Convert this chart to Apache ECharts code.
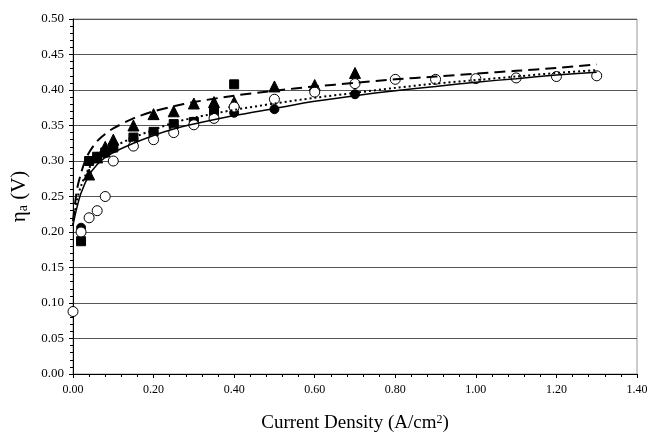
<!DOCTYPE html>
<html><head><meta charset="utf-8">
<script src="https://cdn.jsdelivr.net/npm/echarts@6/dist/echarts.min.js"></script>
<style>html,body{margin:0;padding:0;background:#fff}#c{width:649px;height:436px}</style>
</head><body><div id="c"></div>
<script>
// Measured data (current density A/cm2, overpotential V)
const openCircles = [[0.00,0.088],[0.02,0.200],[0.04,0.220],[0.06,0.230],[0.08,0.250],[0.10,0.300],[0.15,0.321],[0.20,0.330],[0.25,0.340],[0.30,0.351],[0.35,0.360],[0.40,0.376],[0.50,0.387],[0.60,0.397],[0.70,0.409],[0.80,0.415],[0.90,0.415],[1.00,0.416],[1.10,0.417],[1.20,0.419],[1.30,0.420]];
const filledCircles = [[0.02,0.206],[0.04,0.300],[0.06,0.305],[0.08,0.311],[0.10,0.318],[0.15,0.331],[0.20,0.340],[0.25,0.350],[0.30,0.355],[0.35,0.362],[0.40,0.368],[0.50,0.373],[0.70,0.394]];
const squares = [[0.02,0.187],[0.04,0.300],[0.06,0.306],[0.08,0.312],[0.10,0.319],[0.15,0.333],[0.20,0.341],[0.25,0.352],[0.30,0.355],[0.35,0.371],[0.40,0.408]];
const triangles = [[0.04,0.281],[0.06,0.305],[0.08,0.320],[0.10,0.330],[0.15,0.350],[0.20,0.366],[0.25,0.370],[0.30,0.381],[0.35,0.383],[0.40,0.383],[0.50,0.405],[0.60,0.407],[0.70,0.424]];
const solidFit = [[0,0.210],[0.01,0.235],[0.02,0.255],[0.04,0.280],[0.06,0.295],[0.08,0.305],[0.10,0.312],[0.15,0.325],[0.20,0.336],[0.25,0.345],[0.30,0.352],[0.40,0.364],[0.50,0.374],[0.60,0.384],[0.70,0.392],[0.80,0.399],[0.90,0.405],[1.00,0.411],[1.10,0.416],[1.20,0.421],[1.30,0.425]];
const dashedFit = [[0,0.215],[0.01,0.260],[0.02,0.283],[0.03,0.300],[0.04,0.312],[0.06,0.328],[0.08,0.338],[0.10,0.346],[0.15,0.360],[0.20,0.370],[0.25,0.377],[0.30,0.383],[0.40,0.392],[0.50,0.399],[0.60,0.405],[0.70,0.410],[0.80,0.415],[0.90,0.419],[1.00,0.423],[1.10,0.427],[1.20,0.431],[1.30,0.436]];
const dottedFit = [[0,0.210],[0.01,0.245],[0.02,0.265],[0.04,0.290],[0.06,0.303],[0.08,0.313],[0.10,0.320],[0.15,0.333],[0.20,0.344],[0.25,0.354],[0.30,0.361],[0.40,0.372],[0.50,0.381],[0.60,0.389],[0.70,0.396],[0.80,0.403],[0.90,0.409],[1.00,0.414],[1.10,0.419],[1.20,0.424],[1.30,0.428]];

const font = 'Liberation Serif';
const chart = echarts.init(document.getElementById('c'), null, {renderer:'canvas'});
function scatter(data, symbol, size, fill, z){
  return {type:'scatter', data, symbol, symbolSize:size, z,
    itemStyle:{color:fill, borderColor:'#000', borderWidth:1, opacity:1}, silent:true};
}
function line(data, type, width, z){
  return {type:'line', data, showSymbol:false, smooth:0.3, z,
    lineStyle:{color:'#000', width, type}, silent:true};
}
chart.setOption({
  animation:false,
  grid:{left:73, right:12, top:19, bottom:62, containLabel:false, outerBoundsMode:'none',
    show:true, borderColor:'#999', borderWidth:1},
  xAxis:{type:'value', min:0, max:1.4, interval:0.2,
    name:'{t|Current Density (A/cm}{s|2}{t|)}', nameLocation:'middle', nameGap:40,
    nameTextStyle:{rich:{t:{fontFamily:font, fontSize:19, color:'#000'}, s:{fontFamily:font, fontSize:12, color:'#000', verticalAlign:'top', lineHeight:12}}},
    axisLine:{lineStyle:{color:'#000', width:1}},
    axisTick:{inside:false, length:4, lineStyle:{color:'#000'}},
    minorTick:{show:true, splitNumber:5, length:3, lineStyle:{color:'#000'}},
    splitLine:{show:false},
    axisLabel:{fontFamily:font, fontSize:12, color:'#000', margin:10, formatter:v=>v.toFixed(2)}
  },
  yAxis:{type:'value', min:0, max:0.5, interval:0.05,
    name:'{t|η}{s|a}{t| (V)}', nameLocation:'middle', nameGap:41, nameRotate:90,
    nameTextStyle:{rich:{t:{fontFamily:font, fontSize:21, color:'#000'}, s:{fontFamily:font, fontSize:14, color:'#000', verticalAlign:'bottom', lineHeight:12}}},
    axisLine:{show:true, lineStyle:{color:'#000', width:1}},
    axisTick:{length:4, lineStyle:{color:'#000'}},
    minorTick:{show:true, splitNumber:5, length:3, lineStyle:{color:'#000'}},
    splitLine:{show:true, lineStyle:{color:'#555', width:1}},
    axisLabel:{fontFamily:font, fontSize:13, color:'#000', margin:9, formatter:v=>v.toFixed(2)}
  },
  series:[
    scatter(filledCircles,'circle',9,'#000',2),
    scatter(squares,'rect',9,'#000',3),
    scatter(triangles,'triangle',11,'#000',4),
    scatter(openCircles,'circle',10,'#fff',5),
    line(solidFit,'solid',1.5,6),
    line(dottedFit,[2,3],2,6),
    line(dashedFit,[11,6],2,6)
  ]
});
</script></body></html>
